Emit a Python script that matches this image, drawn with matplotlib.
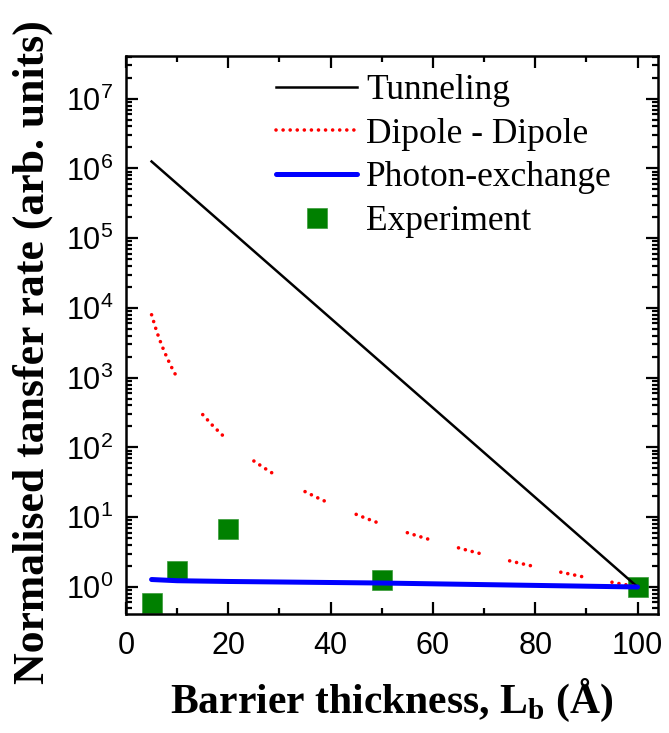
import numpy as np
import matplotlib
matplotlib.use("Agg")
import matplotlib.pyplot as plt
from matplotlib.ticker import MultipleLocator, LogLocator, FuncFormatter, NullFormatter

nan = np.nan

# tunneling (straight line on log scale)
tun_x = [5, 100]
tun_y = [1.26e6, 1.0]

# dipole - dipole, drawn in short dotted pieces (nan = gap)
dd_x = [5, 6, 7, 8, 9, 10, nan,
        15, 17, 19.5, nan,
        25, 27, 29.5, nan,
        35, 37, 39.5, nan,
        45, 47, 49.5, nan,
        55, 57, 59.5, nan,
        65, 67, 69.5, nan,
        75, 77, 79.5, nan,
        85, 87, 89.5, nan,
        95, 97, 99.5]
dd_y = [8000, 4600, 2900, 1950, 1370, 1000, nan,
        296, 204, 135, nan,
        64, 51, 39, nan,
        23.3, 19.7, 16.2, nan,
        11.0, 9.6, 8.2, nan,
        6.0, 5.4, 4.75, nan,
        3.64, 3.32, 2.98, nan,
        2.37, 2.19, 1.99, nan,
        1.63, 1.52, 1.39, nan,
        1.17, 1.10, 1.02]

# photon exchange
ph_x = [5, 10, 20, 50, 100]
ph_y = [1.28, 1.23, 1.20, 1.14, 1.0]

# experiment
exp_x = [5, 10, 20, 50, 100]
exp_y = [0.59, 1.7, 6.8, 1.24, 1.0]

fig = plt.figure(figsize=(6.69, 7.33), dpi=100)
ax = fig.add_axes([126 / 669, 1 - 614 / 733, 532 / 669, 558 / 733])

ax.plot(exp_x, exp_y, 's', color='green', markersize=14, markeredgewidth=0.5,
        markeredgecolor='#3a9a3a', label='Experiment', zorder=2)
ax.plot(tun_x, tun_y, '-', color='black', lw=1.8, label='Tunneling', zorder=3)
ax.plot(dd_x, dd_y, color='red', lw=2.6, linestyle=(0, (0.01, 1.95)),
        dash_capstyle='round', label='Dipole - Dipole', zorder=3)
ax.plot(ph_x, ph_y, '-', color='blue', lw=3.6, label='Photon-exchange',
        solid_capstyle='round', zorder=4)

ax.set_yscale('log')
ax.set_xlim(0, 104)
ax.set_ylim(0.41, 4.1e7)

ax.xaxis.set_major_locator(MultipleLocator(20))
ax.xaxis.set_minor_locator(MultipleLocator(10))
ax.yaxis.set_major_locator(LogLocator(base=10, numticks=20))
ax.yaxis.set_minor_locator(LogLocator(base=10, subs=np.arange(2, 10), numticks=20))
ax.yaxis.set_minor_formatter(NullFormatter())
ax.yaxis.set_major_formatter(FuncFormatter(
    lambda v, p: r'$\mathregular{10^{%d}}$' % int(round(np.log10(v)))))

ax.tick_params(which='both', direction='in', top=True, right=True, width=1.6)
ax.tick_params(which='major', length=8.5, labelsize=22)
ax.tick_params(axis='x', which='major', pad=12)
ax.tick_params(axis='y', which='major', pad=9)
ax.tick_params(which='minor', length=4.5)
for lab in ax.get_xticklabels() + ax.get_yticklabels():
    lab.set_family('Liberation Sans')
for sp in ax.spines.values():
    sp.set_linewidth(1.8)

ax.set_xlabel(r'Barrier thickness, L$_\mathregular{b}$ (Å)', family='Liberation Serif',
              fontweight='bold', fontsize=30, labelpad=12)
ax.set_ylabel('Normalised tansfer rate (arb. units)', family='Liberation Serif',
              fontweight='bold', fontsize=31.5)
ax.yaxis.set_label_coords(-0.138, 0.47)

handles, labels = ax.get_legend_handles_labels()
order = [1, 2, 3, 0]
ax.legend([handles[i] for i in order], [labels[i] for i in order],
          loc='upper left', bbox_to_anchor=(0.235, 1.012), frameon=False,
          prop={'family': 'Liberation Serif', 'size': 25.5},
          handlelength=2.3, handletextpad=0.25, labelspacing=0.3,
          borderaxespad=0.3)

fig.savefig('out.png', dpi=100)
